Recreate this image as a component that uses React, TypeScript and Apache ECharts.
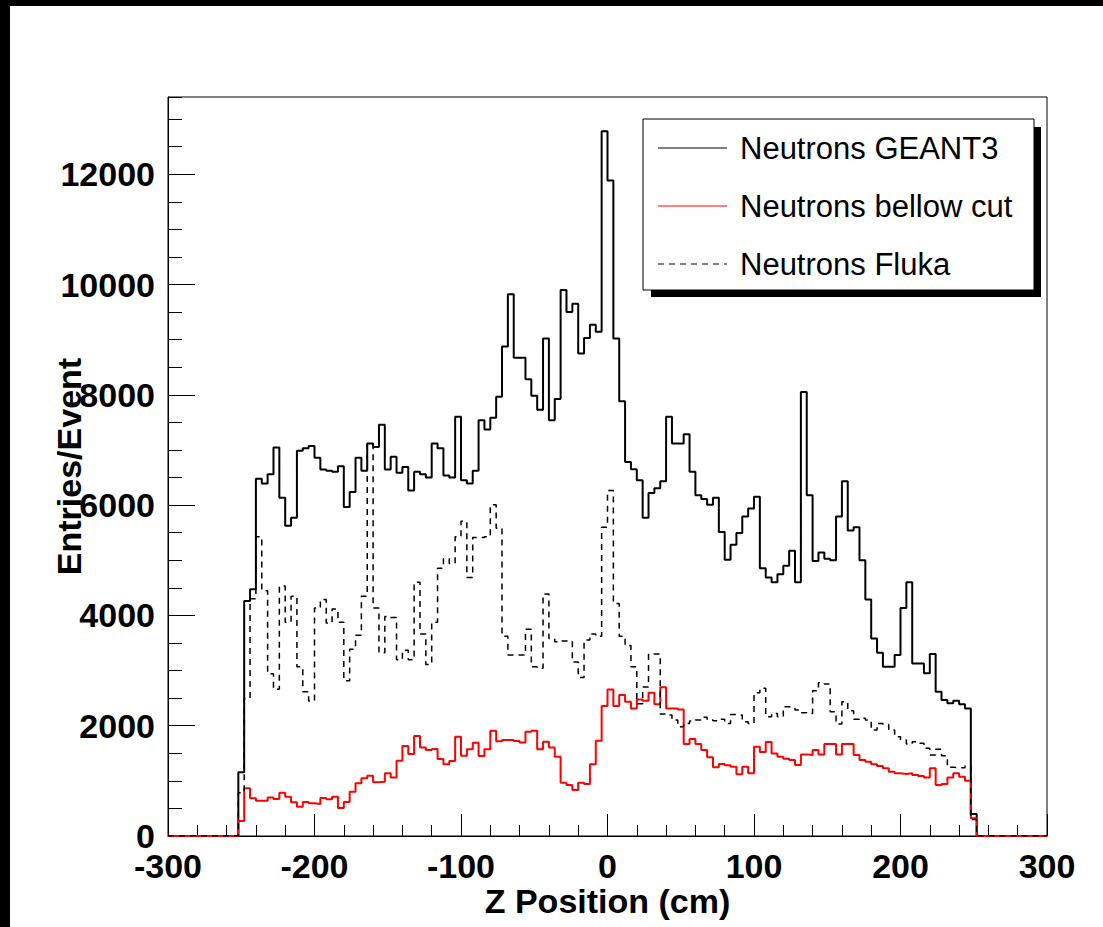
import React, { useEffect, useRef } from "react";
import * as echarts from "echarts";

const X_MIN = -300;
const X_MAX = 300;
const BIN_START = -252;
const BIN_WIDTH = 4;
const Y_MAX = 13400;

const geant3 = [
  1154, 4261, 4474, 6476, 6391, 6561, 7046, 6135, 5624, 5769,
  6987, 7029, 7072, 6859, 6646, 6621, 6604, 6706, 5965, 6237,
  6859, 6621, 7115, 7055, 7455, 6646, 6876, 6587, 6689, 6263,
  6604, 6561, 6501, 7115, 7029, 6535, 6501, 7600, 6450, 6391,
  6621, 7540, 7370, 7583, 7966, 8878, 9823, 8673, 8673, 8282,
  7983, 7728, 9023, 7540, 7924, 9900, 9500, 9653, 8750, 9031,
  9270, 9142, 12779, 11885, 9023, 7881, 6780, 6650, 6450, 5769,
  6220, 6305, 6433, 7600, 7115, 7115, 7285, 6604, 6178, 6110,
  6007, 6135, 5513, 5011, 5283, 5496, 5794, 5939, 6152, 4857,
  4687, 4602, 4747, 4900, 5172, 4602, 8052, 6178, 4985, 5139,
  5028, 5002, 5794, 6433, 5539, 5598, 5002, 4287, 3580, 3324,
  3069, 3069, 3281, 4133, 4600, 3130, 3130, 2950, 3300, 2616,
  2465, 2405, 2453, 2387, 2314, 399,
];

const bellowCut = [
  272, 864, 683, 640, 640, 700, 670, 785, 713, 610,
  532, 616, 592, 580, 689, 665, 713, 507, 616, 803,
  955, 1045, 1094, 973, 985, 1136, 1063, 1365, 1631, 1486,
  1812, 1607, 1559, 1577, 1395, 1299, 1359, 1800, 1456, 1571,
  1691, 1450, 1571, 1909, 1716, 1740, 1740, 1722, 1697, 1891,
  1909, 1571, 1710, 1607, 1438, 967, 924, 834, 967, 943,
  1299, 1728, 2356, 2658, 2356, 2556, 2435, 2314, 2477, 2453,
  2598, 2387, 2695, 2314, 2314, 2296, 1668, 1758, 1668, 1559,
  1426, 1245, 1305, 1281, 1257, 1118, 1257, 1136, 1619, 1523,
  1704, 1498, 1438, 1402, 1378, 1287, 1480, 1468, 1559, 1480,
  1668, 1668, 1480, 1668, 1668, 1468, 1378, 1347, 1299, 1269,
  1227, 1166, 1136, 1124, 1136, 1106, 1088, 1063, 1227, 924,
  943, 1063, 1136, 1076, 1003, 320,
];

const fluka = [
  785, 2495, 4304, 5428, 4448, 2941, 2660, 4534, 3878, 4346,
  3069, 2617, 2447, 4133, 4287, 3861, 4116, 3878, 2813, 3384,
  3639, 4346, 7115, 4133, 3324, 3980, 3963, 3196, 3367, 3196,
  4602, 3665, 3111, 3878, 4857, 5028, 4943, 5428, 5709, 4687,
  5411, 5411, 5428, 6007, 5581, 3622, 3281, 3281, 3281, 3750,
  3069, 3043, 4389, 3580, 3520, 3537, 3537, 3154, 2873, 3554,
  3665, 3622, 5598, 6263, 4218, 3622, 3452, 3069, 2400, 2700,
  3300, 3300, 2211, 2193, 2103, 1982, 2042, 2084, 2103, 2151,
  2103, 2090, 2115, 2042, 2205, 2193, 2072, 2042, 2598, 2677,
  2163, 2223, 2163, 2344, 2332, 2284, 2236, 2223, 2634, 2779,
  2755, 2254, 2030, 2435, 2272, 2115, 2133, 2103, 1921, 2042,
  2024, 1921, 1800, 1740, 1668, 1710, 1680, 1589, 1468, 1571,
  1456, 1245, 1239, 1239, 1269, 300,
];

const legendLabels = ["Neutrons GEANT3", "Neutrons bellow cut", "Neutrons Fluka"];
const xTitle = "Z Position (cm)";
const yTitle = "Entries/Event";

function toSteps(values: number[]): number[][] {
  const pts: number[][] = [[X_MIN, 0]];
  values.forEach((v, i) => pts.push([BIN_START + i * BIN_WIDTH, v]));
  pts.push([BIN_START + values.length * BIN_WIDTH, 0]);
  pts.push([X_MAX, 0]);
  return pts;
}

const FONT = "'Liberation Sans', Helvetica, Arial, sans-serif";

export default function App() {
  const ref = useRef<HTMLDivElement>(null);
  useEffect(() => {
    if (!ref.current) return;
    const chart = echarts.init(ref.current, undefined, { renderer: "svg" });
    const labelStyle = { color: "#000", fontSize: 34, fontWeight: "bold" as const, fontFamily: FONT };
    const legendY = [148, 206, 264];
    const legendStyles = [
      { stroke: "#000", lineDash: null as any },
      { stroke: "#ff0000", lineDash: null as any },
      { stroke: "#000", lineDash: [6, 5] },
    ];
    chart.setOption({
      animation: false,
      backgroundColor: "#fff",
      grid: { left: 168, top: 97, width: 879, height: 739, show: true, borderColor: "#000", borderWidth: 1, backgroundColor: "transparent" },
      xAxis: {
        type: "value",
        min: X_MIN,
        max: X_MAX,
        interval: 100,
        axisLine: { show: true, onZero: false, lineStyle: { color: "#000", width: 1 } },
        axisTick: { show: true, inside: true, length: 22, lineStyle: { color: "#000", width: 1 } },
        minorTick: { show: true, splitNumber: 5, length: 11, lineStyle: { color: "#000", width: 1 } },
        splitLine: { show: false },
        axisLabel: { ...labelStyle, margin: 13, formatter: (v: number) => String(v) },
        name: xTitle,
        nameLocation: "middle",
        nameGap: 48,
        nameMoveOverlap: false,
        nameTextStyle: labelStyle,
      },
      yAxis: [
        {
          type: "value",
          min: 0,
          max: Y_MAX,
          interval: 2000,
          axisLine: { show: true, onZero: false, lineStyle: { color: "#000", width: 1 } },
          axisTick: { show: true, inside: true, length: 27, lineStyle: { color: "#000", width: 1 } },
          splitLine: { show: false },
          axisLabel: { ...labelStyle, margin: 13, showMaxLabel: false, formatter: (v: number) => String(v) },
          name: yTitle,
          nameLocation: "middle",
          nameGap: 82,
          nameRotate: 90,
          nameMoveOverlap: false,
          nameTextStyle: labelStyle,
        },
        {
          type: "value",
          min: 0,
          max: Y_MAX,
          interval: 500,
          position: "left",
          axisLine: { show: false, onZero: false },
          axisTick: { show: true, inside: true, length: 14, lineStyle: { color: "#000", width: 1 } },
          splitLine: { show: false },
          axisLabel: { show: false },
        },
      ],
      series: [
        {
          name: legendLabels[0],
          type: "line",
          step: "end",
          symbol: "none",
          data: toSteps(geant3),
          lineStyle: { color: "#000", width: 2 },
          silent: true,
        },
        {
          name: legendLabels[1],
          type: "line",
          step: "end",
          symbol: "none",
          data: toSteps(bellowCut),
          lineStyle: { color: "#ff0000", width: 2 },
          silent: true,
        },
        {
          name: legendLabels[2],
          type: "line",
          step: "end",
          symbol: "none",
          data: toSteps(fluka),
          lineStyle: { color: "#000", width: 1.5, type: [6, 5] },
          silent: true,
        },
      ],
      graphic: [
        { type: "rect", z: 100, shape: { x: 0, y: 0, width: 1103, height: 6 }, style: { fill: "#000" } },
        { type: "rect", z: 100, shape: { x: 0, y: 0, width: 10, height: 927 }, style: { fill: "#000" } },
        { type: "rect", z: 100, shape: { x: 1034, y: 127, width: 7, height: 170 }, style: { fill: "#000" } },
        { type: "rect", z: 100, shape: { x: 651, y: 290, width: 390, height: 7 }, style: { fill: "#000" } },
        { type: "rect", z: 101, shape: { x: 643, y: 119, width: 391, height: 171 }, style: { fill: "#fff", stroke: "#000", lineWidth: 1 } },
        ...legendLabels.flatMap((label, i) => [
          {
            type: "line",
            z: 102,
            shape: { x1: 658, y1: legendY[i], x2: 727, y2: legendY[i] },
            style: { stroke: legendStyles[i].stroke, lineWidth: 1.2, lineDash: legendStyles[i].lineDash },
          },
          {
            type: "text",
            z: 102,
            x: 740,
            y: legendY[i],
            style: { text: label, fill: "#000", font: `31px ${FONT}`, textVerticalAlign: "middle", verticalAlign: "middle" },
          },
        ]),
      ],
    });
    return () => chart.dispose();
  }, []);
  return <div ref={ref} style={{ position: "absolute", left: 0, top: 0, width: 1103, height: 927, background: "#fff" }} />;
}
